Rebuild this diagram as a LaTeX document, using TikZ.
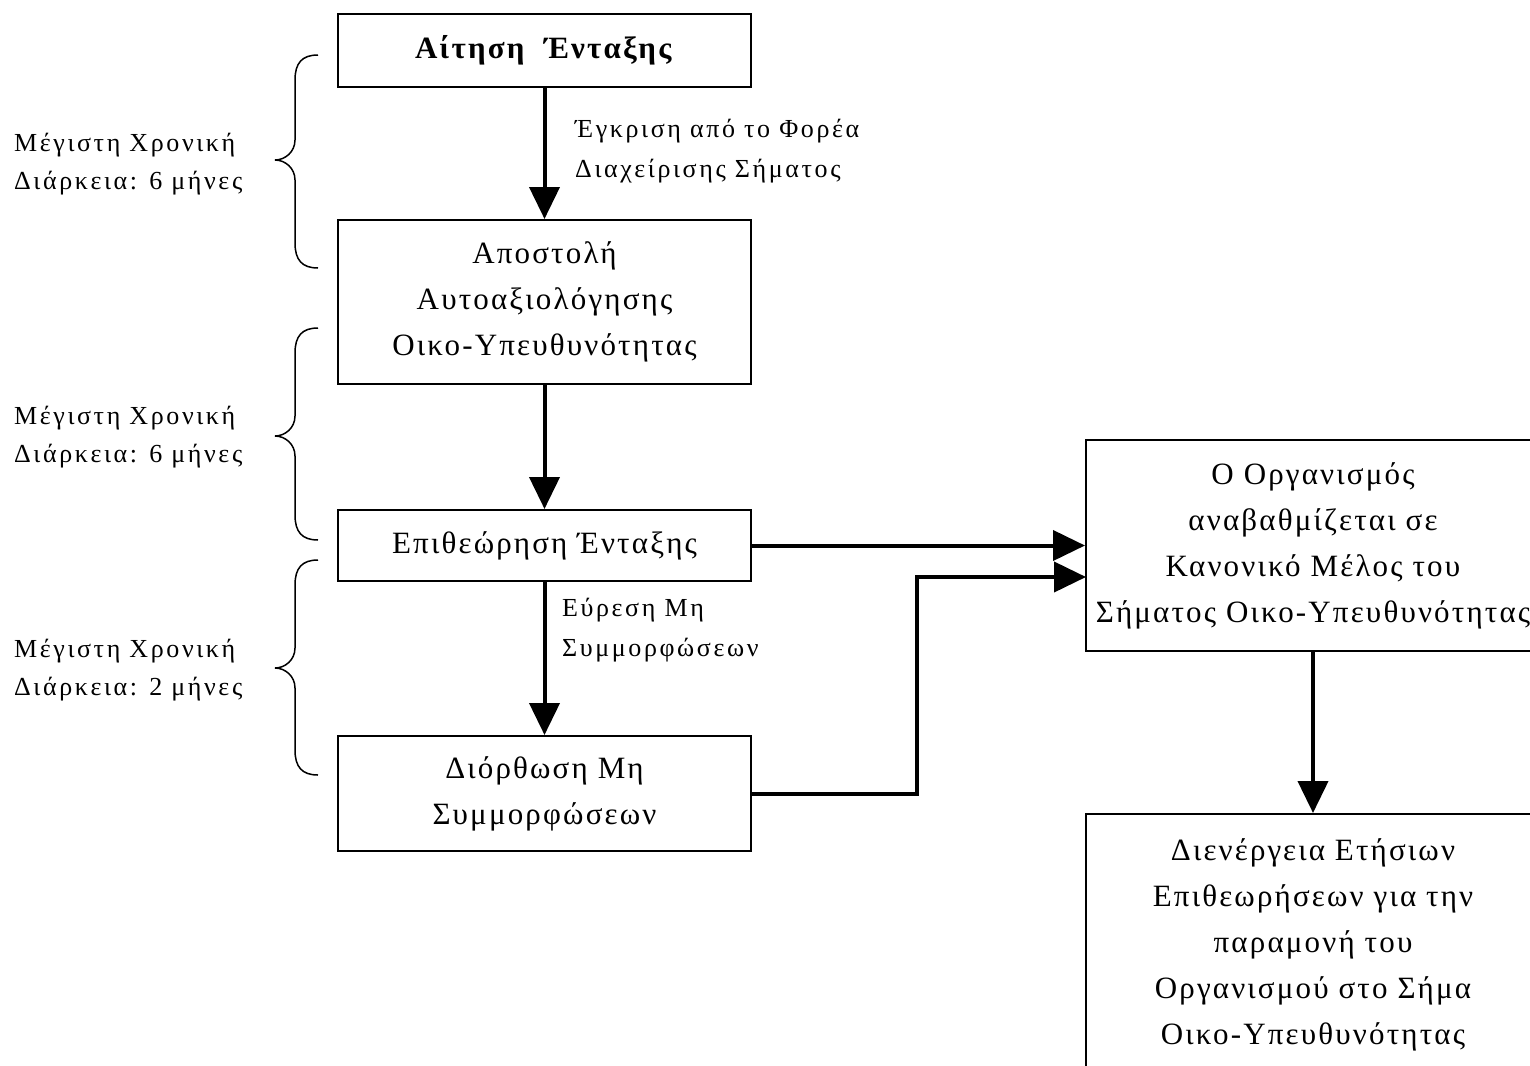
\documentclass[tikz,border=0pt]{standalone}
\usepackage{fontspec}
\setmainfont{Liberation Serif}
\newfontfamily\boxfont[LetterSpace=7]{Liberation Serif}
\newfontfamily\labfont[LetterSpace=10]{Liberation Serif}
\usetikzlibrary{arrows.meta}
\tikzset{
  box/.style={draw, line width=2pt, align=center, inner sep=0pt,
    font=\boxfont\fontsize{31}{46}\selectfont},
  arr/.style={line width=4pt, -{Triangle[length=32pt,width=30pt]}},
  side/.style={anchor=west, align=left, inner sep=0pt, font=\labfont\fontsize{26}{38}\selectfont},
  elab/.style={anchor=west, align=left, inner sep=0pt, font=\labfont\fontsize{26}{40}\selectfont},
  brace/.style={line width=1.5pt}
}
\newcommand\sidebrace[3]{%
  \draw[brace] (318,#1) .. controls (302,#1) and (295,#1+8) .. (295,#1+25)
    -- (295,#2-20) .. controls (295,#2-8) and (285,#2) .. (275,#2)
    .. controls (285,#2) and (295,#2+8) .. (295,#2+20)
    -- (295,#3-25) .. controls (295,#3-8) and (302,#3) .. (318,#3);}
\begin{document}
\begin{tikzpicture}[x=1pt,y=-1pt]
\useasboundingbox (0,0) rectangle (1530,1065);
\clip (0,0) rectangle (1530,1065);
\fill[white] (0,0) rectangle (1530,1065);
% boxes
\node[box, minimum width=413pt, minimum height=73pt] (a) at (544.5,50.5) {\textbf{Αίτηση\ \ Ένταξης}};
\node[box, minimum width=413pt, minimum height=164pt] (b) at (544.5,302) {Αποστολή\\Αυτοαξιολόγησης\\Οικο-Υπευθυνότητας};
\node[box, minimum width=413pt, minimum height=71pt] (c) at (544.5,545.5) {Επιθεώρηση Ένταξης};
\node[box, minimum width=413pt, minimum height=115pt] (d) at (544.5,793.5) {Διόρθωση Μη\\Συμμορφώσεων};
\node[box, minimum width=454pt, minimum height=211pt] (o) at (1313,545.5) {Ο Οργανισμός\\αναβαθμίζεται σε\\Κανονικό Μέλος του\\Σήματος Οικο-Υπευθυνότητας};
\node[box, minimum width=454pt, minimum height=262pt] (e) at (1313,945) {Διενέργεια Ετήσιων\\Επιθεωρήσεων για την\\παραμονή του\\Οργανισμού στο Σήμα\\Οικο-Υπευθυνότητας};
% connectors
\draw[arr] (a) -- (b);
\draw[arr] (b) -- (c);
\draw[arr] (c) -- (d);
\draw[arr] (c.east) -- (o.west);
\coordinate (oin) at (1086,577);
\draw[arr] (d.east) -| (917,577) -- (oin);
\draw[arr] (o.south) -- (e.north);
% edge labels
\node[elab] (l1) at (575,151) {Έγκριση από το Φορέα\\Διαχείρισης Σήματος};
\node[elab] (l2) at (562,630) {Εύρεση Μη\\Συμμορφώσεων};
% side labels
\node[side] (s1) at (14,164) {Μέγιστη Χρονική\\Διάρκεια: 6 μήνες};
\node[side] (s2) at (14,437) {Μέγιστη Χρονική\\Διάρκεια: 6 μήνες};
\node[side] (s3) at (14,670) {Μέγιστη Χρονική\\Διάρκεια: 2 μήνες};
% braces
\sidebrace{55}{160}{268}
\sidebrace{328}{436}{540}
\sidebrace{560}{668}{775}
\end{tikzpicture}
\end{document}
